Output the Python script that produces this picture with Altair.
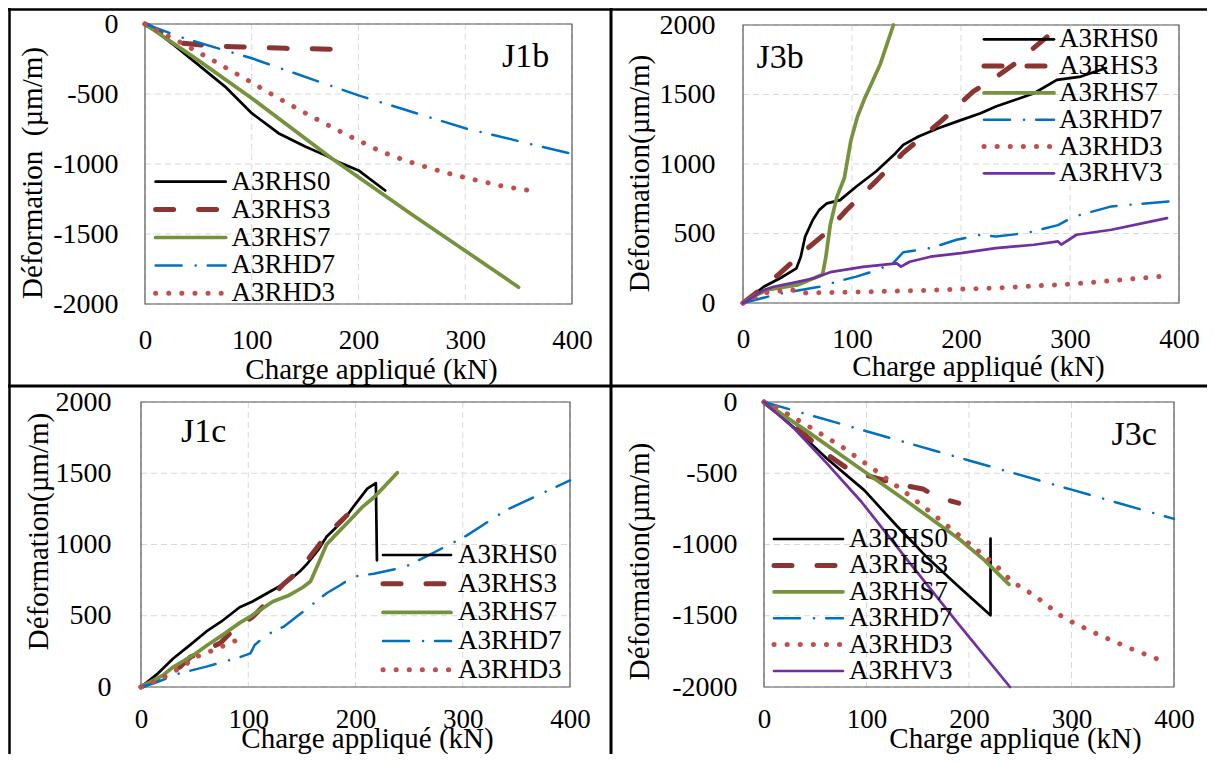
import altair as alt
import pandas as pd

FONT = "Liberation Serif"
W, H = 1199, 746   # whole drawing area (page coordinates minus the 8px margin)

# ---------------- data (kN, µm/m) ----------------
# J1b
J1B_HS0_X = [0, 10, 25, 50, 75, 100, 125, 150, 170, 180, 200, 225]
J1B_HS0_Y = [0, -50, -138, -292, -447, -637, -780, -875, -942, -982, -1046, -1189]
J1B_HS3_X = [0, 10, 20, 36, 60, 83, 132, 180]
J1B_HS3_Y = [0, -40, -80, -138, -155, -162, -174, -181]
J1B_HS7_X = [0, 50, 100, 175, 250, 350]
J1B_HS7_Y = [0, -260, -530, -960, -1360, -1880]
J1B_HD7_X = [0, 36, 100, 200, 300, 397]
J1B_HD7_Y = [0, -100, -245, -510, -745, -923]
J1B_HD3_X = [0, 10, 32, 63, 94, 125, 156, 189, 200, 221, 243, 267, 289, 313, 336, 360]
J1B_HD3_Y = [0, -43, -126, -257, -392, -530, -661, -792, -832, -911, -973, -1030, -1077, -1120, -1160, -1189]

# J3b
J3B_HS0_X = [0, 10, 19, 34, 49, 53, 57, 64, 70, 77, 89, 104, 122, 140, 147, 161, 179, 196, 218, 232, 267, 288, 310, 333]
J3B_HS0_Y = [0, 60, 117, 178, 249, 333, 477, 597, 670, 717, 740, 838, 946, 1078, 1138, 1198, 1257, 1305, 1365, 1413, 1509, 1605, 1629, 1690]
J3B_HS3_X = [0, 20, 34, 49, 61, 76, 95, 123, 147, 182, 211, 232, 250, 292]
J3B_HS3_Y = [0, 120, 215, 321, 405, 503, 669, 884, 1080, 1310, 1520, 1625, 1725, 2000]
J3B_HS7_X = [0, 10, 23, 50, 73, 76, 80, 86, 93, 99, 105, 111, 126, 138]
J3B_HS7_Y = [0, 50, 96, 130, 205, 330, 560, 760, 900, 1170, 1340, 1460, 1720, 2000]
J3B_HD7_X = [0, 20, 37, 70, 89, 104, 123, 138, 147, 172, 196, 218, 232, 260, 289, 303, 338, 391]
J3B_HD7_Y = [0, 40, 72, 117, 160, 190, 237, 290, 365, 395, 455, 491, 479, 503, 560, 620, 695, 731]
J3B_HD3_X = [0, 19, 44, 58, 90, 161, 232, 303, 384]
J3B_HD3_Y = [0, 72, 96, 72, 77, 89, 108, 137, 192]
J3B_HV3_X = [0, 19, 28, 49, 65, 80, 110, 141, 145, 153, 172, 200, 232, 267, 289, 292, 306, 338, 389]
J3B_HV3_Y = [0, 93, 117, 150, 178, 222, 260, 285, 262, 297, 333, 359, 395, 419, 443, 420, 491, 527, 611]

# J1c
J1C_HS0_X = [0, 15, 30, 45, 61, 75, 92, 104, 123, 137, 148, 155, 165, 173, 189, 199, 211, 219, 220]
J1C_HS0_Y = [0, 90, 200, 290, 390, 460, 560, 600, 681, 740, 810, 865, 960, 1055, 1172, 1275, 1392, 1430, 889]
J1C_HS3_X = [0, 20, 36, 46, 57, 74, 86, 104, 117, 132, 148, 161, 173, 192]
J1C_HS3_Y = [0, 70, 140, 210, 246, 309, 400, 491, 590, 716, 821, 947, 1067, 1205]
J1C_HS7_X = [0, 20, 30, 50, 61, 79, 92, 101, 123, 137, 151, 158, 165, 173, 181, 195, 206, 217, 228, 239]
J1C_HS7_Y = [0, 80, 140, 230, 290, 380, 450, 490, 600, 640, 700, 740, 860, 1000, 1064, 1172, 1260, 1330, 1415, 1504]
J1C_HD7_X = [0, 12, 36, 61, 77, 89, 102, 106, 117, 133, 145, 161, 173, 186, 198, 217, 246, 268, 304, 340, 400]
J1C_HD7_Y = [0, 26, 96, 143, 178, 201, 236, 295, 365, 423, 493, 587, 658, 716, 774, 795, 842, 924, 1064, 1240, 1450]
J1C_HD3_X = [0, 12, 22, 33, 43, 52, 64, 75, 86, 97]
J1C_HD3_Y = [0, 37, 72, 119, 166, 213, 248, 283, 318, 353]

# J3c
J3C_HS0_X = [0, 30, 61, 98, 129, 159, 189, 221, 221]
J3C_HS0_Y = [0, -185, -395, -620, -865, -1090, -1290, -1497, -958]
J3C_HS3_X = [0, 20, 40, 60, 80, 100, 120, 140, 155, 165, 175, 190]
J3C_HS3_Y = [0, -110, -230, -360, -460, -515, -555, -590, -610, -650, -680, -710]
J3C_HS7_X = [0, 45, 93, 140, 191, 215, 239]
J3C_HS7_Y = [0, -220, -463, -700, -965, -1110, -1280]
J3C_HD7_X = [0, 100, 200, 300, 400]
J3C_HD7_Y = [0, -205, -410, -615, -820]
J3C_HD3_X = [0, 11, 44, 76, 106, 137, 166, 184, 226, 242, 263, 293, 327, 361, 384]
J3C_HD3_Y = [0, -33, -173, -314, -466, -629, -793, -898, -1144, -1261, -1354, -1518, -1635, -1740, -1804]
J3C_HV3_X = [0, 30, 60, 95, 140, 190, 240]
J3C_HV3_Y = [0, -190, -420, -700, -1110, -1560, -2000]

X_TICKS = [0, 100, 200, 300, 400]
Y_TICKS_NEG = [-2000, -1500, -1000, -500, 0]
Y_TICKS_POS = [0, 500, 1000, 1500, 2000]

# ---------------- styles ----------------
STYLE = {
    "A3RHS0": dict(color="#000000", width=2.7, dash=None),
    "A3RHS3": dict(color="#8A3532", width=5, dash=[18, 25]),
    "A3RHS7": dict(color="#76923C", width=3.7, dash=None),
    "A3RHD7": dict(color="#0070C0", width=2.5, dash=[26, 14, 0.1, 12]),
    "A3RHD3": dict(color="#C0504D", width=5, dash=[0.1, 13]),
    "A3RHV3": dict(color="#7030A0", width=2.7, dash=None),
}

DEC = pd.DataFrame({"d": [0]})


def make_df(series):
    rows = []
    for name, (xs, ys) in series.items():
        for i, (x, y) in enumerate(zip(xs, ys)):
            rows.append({"series": name, "kn": x, "strain": y, "i": i})
    return pd.DataFrame(rows)


def vrule(x, y1, y2, sw, color="black"):
    return alt.Chart(DEC).mark_rule(color=color, strokeWidth=sw).encode(
        x=alt.value(x), y=alt.value(y1), y2=alt.value(y2))


def hrule(y, x1, x2, sw, color="black"):
    return alt.Chart(DEC).mark_rule(color=color, strokeWidth=sw).encode(
        y=alt.value(y), x=alt.value(x1), x2=alt.value(x2))


def panel(series, ydom, yticks, g):
    L, R, T, B = g["L"], g["R"], g["T"], g["B"]
    df = make_df(series)
    xs = alt.Scale(domain=[0, 400], range=[L, R], nice=False, zero=False)
    ys = alt.Scale(domain=ydom, range=[B, T], nice=False, zero=False)
    xaxis = alt.Axis(orient="bottom", offset=B - H, values=X_TICKS,
                     labelExpr="datum.value + ''", title="Charge appliqué (kN)",
                     grid=False, ticks=False, tickSize=0, domain=False,
                     labelFont=FONT, labelFontSize=27, labelColor="black",
                     labelPadding=g["xlp"], labelFlush=False, labelOverlap=False,
                     titleFont=FONT, titleFontSize=29, titleFontWeight="normal",
                     titleColor="black", titleX=g["xtx"], titleY=g["xty"],
                     titleAlign="center", titleBaseline="alphabetic")
    yaxis = alt.Axis(orient="left", offset=-L, values=yticks,
                     labelExpr="datum.value + ''", title=g["ytitle"],
                     grid=False, ticks=False, tickSize=0, domain=False,
                     labelFont=FONT, labelFontSize=28, labelColor="black",
                     labelPadding=g["ylp"], labelFlush=False, labelOverlap=False,
                     titleFont=FONT, titleFontSize=29, titleFontWeight="normal",
                     titleColor="black", titleAngle=270, titleX=g["ytx"],
                     titleY=g["yty"], titleAlign="center", titleBaseline="alphabetic")
    xenc = alt.X("kn:Q", scale=xs, axis=xaxis)
    yenc = alt.Y("strain:Q", scale=ys, axis=yaxis)

    layers = [
        # dashed grid through the panel scales
        alt.Chart(pd.DataFrame({"kn": X_TICKS})).mark_rule(
            color="#D9D9D9", strokeDash=[6, 4], strokeWidth=1).encode(
            x=xenc, y=alt.value(T), y2=alt.value(B)),
        alt.Chart(pd.DataFrame({"strain": yticks})).mark_rule(
            color="#D9D9D9", strokeDash=[6, 4], strokeWidth=1).encode(
            y=yenc, x=alt.value(L), x2=alt.value(R)),
        # plot border
        alt.Chart(DEC).mark_rect(filled=False, stroke="#595959", strokeWidth=1.2).encode(
            x=alt.value(L), x2=alt.value(R), y=alt.value(T), y2=alt.value(B)),
    ]
    for name in series:
        st = STYLE[name]
        kw = dict(color=st["color"], strokeWidth=st["width"], strokeCap="round",
                  strokeJoin="round")
        if st["dash"]:
            kw["strokeDash"] = st["dash"]
        layers.append(alt.Chart(df).transform_filter(alt.datum.series == name)
                      .mark_line(**kw).encode(x=xenc, y=yenc, order="i:Q"))
    return alt.layer(*layers)


def legend(names, g):
    lx0, lx1, tx, ly0, step = g["legend"]
    out = []
    for k, name in enumerate(names):
        st = STYLE[name]
        y = ly0 + k * step
        kw = dict(color=st["color"], strokeWidth=st["width"], strokeCap="round")
        if st["dash"]:
            kw["strokeDash"] = st["dash"]
        out.append(alt.Chart(DEC).mark_rule(**kw).encode(
            x=alt.value(lx0), x2=alt.value(lx1), y=alt.value(y)))
        out.append(alt.Chart(DEC).mark_text(
            text=name, font=FONT, fontSize=27, color="black", align="left",
            baseline="middle").encode(x=alt.value(tx), y=alt.value(y)))
    lab, lbx, lby = g["label"]
    out.append(alt.Chart(DEC).mark_text(
        text=lab, font=FONT, fontSize=34, color="black", align="left",
        baseline="alphabetic").encode(x=alt.value(lbx), y=alt.value(lby)))
    return out


G1 = dict(L=137, R=564, T=16, B=296, xlp=23, ylp=27, xtx=363, xty=74,
          ytitle="Déformation\u00a0\u00a0(µm/m)", ytx=-104, yty=164.5,
          legend=(147.6, 217.7, 223.5, 173.7, 27.9), label=("J1b", 494, 58.7))
G2 = dict(L=735, R=1171, T=17, B=295, xlp=23, ylp=28, xtx=970, xty=72,
          ytitle="Déformation(µm/m)", ytx=-94.4, yty=165,
          legend=(976, 1046, 1051, 31.3, 26.8), label=("J3b", 748.6, 60.3))
G3 = dict(L=133, R=562, T=394, B=679, xlp=19, ylp=30, xtx=359, xty=60,
          ytitle="Déformation(µm/m)", ytx=-94, yty=523,
          legend=(375, 443, 450, 547, 28.7), label=("J1c", 173, 433.7))
G4 = dict(L=756, R=1166, T=394, B=679, xlp=19, ylp=27, xtx=1007, xty=60,
          ytitle="Déformation(µm/m)", ytx=-115.4, yty=553,
          legend=(766, 835, 841, 531, 26.4), label=("J3c", 1103.5, 437))

S1 = {"A3RHS0": (J1B_HS0_X, J1B_HS0_Y), "A3RHS3": (J1B_HS3_X, J1B_HS3_Y),
      "A3RHS7": (J1B_HS7_X, J1B_HS7_Y), "A3RHD7": (J1B_HD7_X, J1B_HD7_Y),
      "A3RHD3": (J1B_HD3_X, J1B_HD3_Y)}
S2 = {"A3RHS0": (J3B_HS0_X, J3B_HS0_Y), "A3RHS3": (J3B_HS3_X, J3B_HS3_Y),
      "A3RHS7": (J3B_HS7_X, J3B_HS7_Y), "A3RHD7": (J3B_HD7_X, J3B_HD7_Y),
      "A3RHD3": (J3B_HD3_X, J3B_HD3_Y), "A3RHV3": (J3B_HV3_X, J3B_HV3_Y)}
S3 = {"A3RHS0": (J1C_HS0_X, J1C_HS0_Y), "A3RHS3": (J1C_HS3_X, J1C_HS3_Y),
      "A3RHS7": (J1C_HS7_X, J1C_HS7_Y), "A3RHD7": (J1C_HD7_X, J1C_HD7_Y),
      "A3RHD3": (J1C_HD3_X, J1C_HD3_Y)}
S4 = {"A3RHS0": (J3C_HS0_X, J3C_HS0_Y), "A3RHS3": (J3C_HS3_X, J3C_HS3_Y),
      "A3RHS7": (J3C_HS7_X, J3C_HS7_Y), "A3RHD7": (J3C_HD7_X, J3C_HD7_Y),
      "A3RHD3": (J3C_HD3_X, J3C_HD3_Y), "A3RHV3": (J3C_HV3_X, J3C_HV3_Y)}

p1 = panel(S1, [-2000, 0], Y_TICKS_NEG, G1)
p2 = panel(S2, [0, 2000], Y_TICKS_POS, G2)
p3 = panel(S3, [0, 2000], Y_TICKS_POS, G3)
p4 = panel(S4, [-2000, 0], Y_TICKS_NEG, G4)

deco = (legend(list(S1), G1) + legend(list(S2), G2) + legend(list(S3), G3)
        + legend(list(S4), G4))
frames = [
    vrule(1.5, 0, H, 2.5), hrule(1.5, 0, W, 2.5),
    vrule(603, 0, H, 3), hrule(378, 0, W, 3),
]

chart = alt.layer(p1, p2, p3, p4, *deco, *frames).resolve_scale(
    x="independent", y="independent"
).properties(
    width=W, height=H, padding=0, background="white",
    autosize=alt.AutoSizeParams(type="none"),
).configure_view(strokeWidth=0)

chart.save("out.html", embed_options={"renderer": "svg", "actions": False})
